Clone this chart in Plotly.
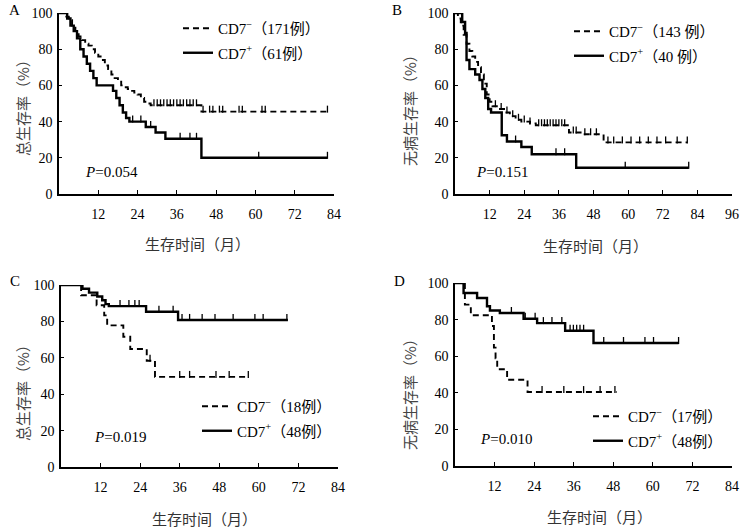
import numpy as np
import plotly.graph_objects as go

# ---- A: 总生存率, all patients ----
a_neg_t = [0, 1.8, 3, 4, 5, 6, 7, 8, 9, 10, 11, 12, 13, 14, 15, 16, 17, 18, 19, 20, 21, 22, 23, 24, 25, 26, 27, 28, 43.5, 82]
a_neg_s = [100, 98, 96, 93, 90, 87, 85, 83, 82, 80, 78, 76, 74, 71, 69, 66, 64, 62, 60, 59, 58, 57, 56, 55, 53, 51, 50, 49, 45.5, 45.5]
a_neg_cens = [29, 30, 31, 32, 33, 34, 35, 36, 37, 38, 39, 40, 41, 42, 44, 46, 47, 49, 50, 55, 56, 62, 63, 82]
a_pos_t = [0, 2.5, 3.5, 4.5, 5.5, 6.5, 7.5, 8.5, 9.5, 10.5, 11.5, 16.5, 17.5, 18.5, 19.5, 20.5, 21.5, 26.5, 29.5, 32.5, 43.5, 82]
a_pos_s = [100, 97, 93, 90, 86, 80, 76, 72, 68, 64, 60, 57, 53, 49, 45, 42, 40, 37, 34, 30.5, 20, 20]
a_pos_cens = [22.5, 25, 28, 37, 40, 42, 61, 82]

# ---- B: 无病生存率, all patients ----
b_neg_t = [0, 1, 2, 3, 4, 5, 6, 7, 8, 9, 10, 11, 12, 13, 15, 17, 19, 21, 23, 26, 28, 39.5, 44, 51.5, 80.5]
b_neg_s = [100, 97, 93, 88, 83, 79, 76, 73, 70, 66, 61, 55, 51, 48.5, 47, 45, 43, 41, 40, 39, 38, 34, 33, 28.5, 28.5]
b_neg_cens = [14, 16, 18, 20, 22, 24, 26, 29, 30, 31, 32, 33, 34, 35, 36, 37, 38, 41, 42, 45, 47, 49, 53, 55, 58, 61, 64, 67, 70, 73, 77, 80.5]
b_pos_t = [0, 2.5, 3.5, 4, 5, 7, 8.5, 9.5, 10.5, 11.5, 12.5, 16.2, 18, 23, 26.6, 42, 81]
b_pos_s = [100, 95, 89, 74, 69, 66, 63, 58, 53, 47, 45, 32.5, 29, 26, 22, 14.5, 14.5]
b_pos_cens = [21, 35, 38, 59, 81]

# ---- C: 总生存率, subgroup ----
c_neg_t = [0, 6.1, 10.8, 13.1, 14, 18.9, 21, 26, 28.5, 56.8]
c_neg_s = [100, 94.4, 88.9, 83.3, 77.8, 71.6, 64.8, 58.4, 49.5, 49.5]
c_neg_cens = [27, 36, 39, 47, 51, 56.8]
c_pos_t = [0, 6.5, 8.5, 11, 12.5, 13.5, 14.5, 25.8, 35.5, 68.8]
c_pos_s = [100, 97.9, 95.8, 93.7, 91.6, 89.5, 88.4, 85.3, 80.8, 80.8]
c_pos_cens = [17.9, 20.6, 22.4, 23.7, 29.7, 34, 36.7, 39, 42.8, 46.7, 52.2, 58.8, 61.3, 68.5]

# ---- D: 无病生存率, subgroup ----
d_neg_t = [0, 3, 4.8, 11.2, 11.8, 12.3, 12.8, 15.8, 22, 49]
d_neg_s = [100, 88.2, 82.4, 76.5, 64.7, 58.8, 52.9, 47.1, 40.4, 40.4]
d_neg_cens = [26.4, 33, 39, 44, 48.5]
d_pos_t = [0, 2.6, 6.7, 9.7, 10.6, 13.6, 20.8, 24.9, 33.4, 42, 67.8]
d_pos_s = [100, 94.5, 91.8, 87.3, 85, 83.6, 80.5, 78.1, 73.9, 67.2, 67.2]
d_pos_cens = [17.1, 21.3, 24.3, 26.8, 29.4, 32.4, 34.9, 35.9, 36.9, 37.9, 39, 45.1, 51.1, 57.6, 60.2, 67.8]

neg_names = ['CD7<sup>−</sup>（171例）', 'CD7<sup>−</sup>（143 例）', 'CD7<sup>−</sup>（18例）', 'CD7<sup>−</sup>（17例）']
pos_names = ['CD7<sup>+</sup>（61例）', 'CD7<sup>+</sup>（40 例）', 'CD7<sup>+</sup>（48例）', 'CD7<sup>+</sup>（48例）']
p_texts = ['<i>P</i>=0.054', '<i>P</i>=0.151', '<i>P</i>=0.019', '<i>P</i>=0.010']
y_titles = ['总生存率（%）', '无病生存率（%）', '总生存率（%）', '无病生存率（%）']
x_title = '生存时间（月）'
panel_labels = ['A', 'B', 'C', 'D']
x_max = [84, 96, 84, 84]
x_ticks = [[12, 24, 36, 48, 60, 72, 84], [12, 24, 36, 48, 60, 72, 84, 96],
           [12, 24, 36, 48, 60, 72, 84], [12, 24, 36, 48, 60, 72, 84]]
y_ticks = [0, 20, 40, 60, 80, 100]

panels = [
    (a_neg_t, a_neg_s, a_neg_cens, a_pos_t, a_pos_s, a_pos_cens),
    (b_neg_t, b_neg_s, b_neg_cens, b_pos_t, b_pos_s, b_pos_cens),
    (c_neg_t, c_neg_s, c_neg_cens, c_pos_t, c_pos_s, c_pos_cens),
    (d_neg_t, d_neg_s, d_neg_cens, d_pos_t, d_pos_s, d_pos_cens),
]

W, H = 742, 528


def px(x):
    return x / W


def py(y):
    return 1 - y / H


# positions in window pixels: plot boxes (left, right, top, bottom)
boxes = [(59, 334, 13, 194), (455, 732, 13, 194), (61, 338, 285, 467), (455, 732, 283, 466)]
p_pos = [(7.3, 12.2), (6.6, 12), (9.4, 16.5), (7, 14.8)]
xtitle_pos = [(197, 243), (595, 246), (204, 518), (599, 516)]
ytitle_pos = [(22, 104), (409, 107), (22, 389), (409, 391)]
label_pos = [(14, 10), (397, 10), (15, 281), (399, 281)]
legend_pos = [(178, 12), (569, 15), (197, 390), (588, 400)]

SERIF = 'Liberation Serif, Times New Roman, Noto Sans CJK SC'
CJK = 'Noto Sans CJK SC'


def step_at(t, s, c):
    idx = np.searchsorted(np.array(t), np.array(c), side='right') - 1
    return np.array(s)[idx]


fig = go.Figure()
layout = dict(
    width=W, height=H,
    margin=dict(l=0, r=0, t=0, b=0, autoexpand=False),
    plot_bgcolor='white', paper_bgcolor='white',
    showlegend=True,
)
annotations = []
censor_marker = dict(symbol='line-ns', size=5, angle=180, standoff=2.5,
                     line=dict(color='black', width=1.3))

for i, (nt, ns, nc, pt, ps, pc) in enumerate(panels):
    sfx = '' if i == 0 else str(i + 1)
    xa, ya = 'x' + sfx, 'y' + sfx
    leg = 'legend' + sfx

    fig.add_trace(go.Scatter(
        x=nt, y=ns, mode='lines', line=dict(color='black', width=1.9, dash='6px,4px', shape='hv'),
        name=neg_names[i], xaxis=xa, yaxis=ya, legend=leg, legendgroup='neg%d' % i))
    fig.add_trace(go.Scatter(
        x=nc, y=step_at(nt, ns, nc), mode='markers', showlegend=False, xaxis=xa, yaxis=ya,
        marker=censor_marker))
    fig.add_trace(go.Scatter(
        x=pt, y=ps, mode='lines', line=dict(color='black', width=2.4, shape='hv'),
        name=pos_names[i], xaxis=xa, yaxis=ya, legend=leg, legendgroup='pos%d' % i))
    fig.add_trace(go.Scatter(
        x=pc, y=step_at(pt, ps, pc), mode='markers', showlegend=False, xaxis=xa, yaxis=ya,
        marker=censor_marker))

    l, r, t, b = boxes[i]
    layout['xaxis' + sfx] = dict(
        domain=[px(l), px(r)], anchor=ya, range=[0, x_max[i]],
        tickvals=x_ticks[i], ticks='inside', ticklen=4, tickwidth=1.2, tickcolor='black',
        showline=True, linecolor='black', linewidth=1.5, showgrid=False, zeroline=False,
        tickfont=dict(family=SERIF, size=14, color='black'), ticklabelstandoff=6,
        ticklabeloverflow='allow')
    layout['yaxis' + sfx] = dict(
        domain=[py(b), py(t)], anchor=xa, range=[0, 100],
        tickvals=y_ticks, ticks='inside', ticklen=3, tickwidth=1.2, tickcolor='black',
        showline=True, linecolor='black', linewidth=1.5, showgrid=False, zeroline=False,
        tickfont=dict(family=SERIF, size=14, color='black'), ticklabelstandoff=2,
        ticklabeloverflow='allow')
    lx, ly = legend_pos[i]
    layout[leg] = dict(
        x=px(lx), y=py(ly), xanchor='left', yanchor='top', xref='paper', yref='paper',
        bgcolor='rgba(0,0,0,0)', font=dict(family=SERIF, size=15, color='black'),
        tracegroupgap=2, itemwidth=30)

    annotations.append(dict(
        x=p_pos[i][0], y=p_pos[i][1], xref=xa, yref=ya, text=p_texts[i], showarrow=False,
        xanchor='left', yanchor='middle', font=dict(family=SERIF, size=15, color='black')))
    annotations.append(dict(
        x=px(xtitle_pos[i][0]), y=py(xtitle_pos[i][1]), xref='paper', yref='paper',
        xanchor='center', yanchor='middle',
        text=x_title, showarrow=False, font=dict(family=CJK, size=15, color='#333333')))
    annotations.append(dict(
        x=px(ytitle_pos[i][0]), y=py(ytitle_pos[i][1]), xref='paper', yref='paper',
        xanchor='center', yanchor='middle',
        text=y_titles[i], textangle=-90, showarrow=False,
        font=dict(family=CJK, size=15, color='#444444')))
    annotations.append(dict(
        x=px(label_pos[i][0]), y=py(label_pos[i][1]), xref='paper', yref='paper',
        text=panel_labels[i], showarrow=False, xanchor='center', yanchor='middle',
        font=dict(family=SERIF, size=15, color='black')))

layout['annotations'] = annotations
fig.update_layout(**layout)

# drop the default body margin so the 742x528 figure fills the window exactly
fig.write_html('out.html', config={'displayModeBar': False},
               post_script="document.body.style.margin = '0px';")
